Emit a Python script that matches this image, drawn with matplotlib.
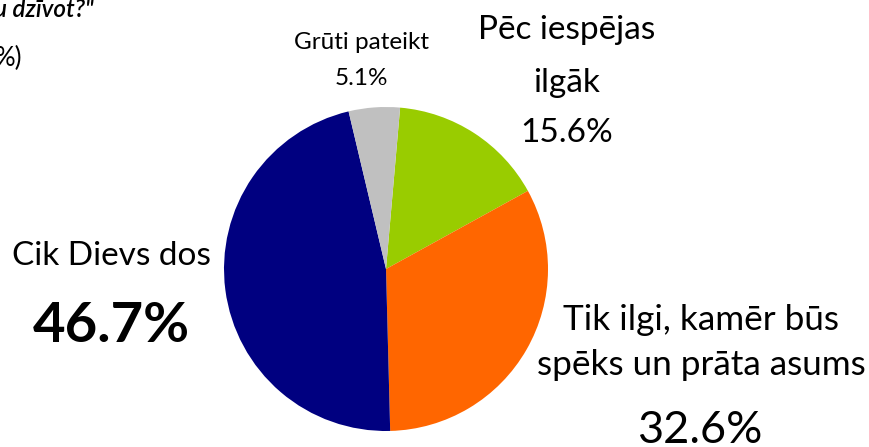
import matplotlib.pyplot as plt

labels = ['Pēc iespējas\nilgāk', 'Tik ilgi, kamēr būs\nspēks un prāta asums', 'Cik Dievs dos', 'Grūti pateikt']
values = [15.6, 32.6, 46.7, 5.1]
colors = ['#99CC00', '#FF6600', '#000080', '#C0C0C0']

plt.rcParams['font.family'] = ['Lato', 'DejaVu Sans']

W, H = 869, 447
fig = plt.figure(figsize=(W / 100, H / 100), dpi=100)

def fx(x):
    return x / W

def fy(y):
    return 1 - y / H

# pie
cx, cy, r = 386, 269, 162
ax = fig.add_axes([fx(cx - r), fy(cy + r), 2 * r / W, 2 * r / H])
ax.pie(values, colors=colors, startangle=85, counterclock=False,
       wedgeprops=dict(linewidth=0))
ax.set_xlim(-1, 1)
ax.set_ylim(-1, 1)
ax.set_aspect('auto')
ax.axis('off')

# cut-off title
fig.text(fx(-6), fy(17), 'u dzīvot?"', fontsize=17.5, style='italic', fontweight='semibold',
         ha='left', va='baseline')
fig.text(fx(-5), fy(66), '%)', fontsize=18.5, ha='left', va='baseline')

# labels
fig.text(fx(567), fy(39), 'Pēc iespējas', fontsize=24, ha='center', va='baseline')
fig.text(fx(567), fy(92), 'ilgāk', fontsize=24, ha='center', va='baseline')
fig.text(fx(567), fy(142), f'{values[0]:.1f}%', fontsize=24, ha='center', va='baseline')

fig.text(fx(701), fy(330), 'Tik ilgi, kamēr būs', fontsize=25.3, ha='center', va='baseline')
fig.text(fx(701), fy(375), 'spēks un prāta asums', fontsize=25.3, ha='center', va='baseline')
fig.text(fx(700), fy(443), f'{values[1]:.1f}%', fontsize=32.5, ha='center', va='baseline')

fig.text(fx(111), fy(265), 'Cik Dievs dos', fontsize=24, ha='center', va='baseline')
fig.text(fx(111), fy(342), f'{values[2]:.1f}%', fontsize=40.5, fontweight='bold', ha='center', va='baseline')

fig.text(fx(361), fy(49), 'Grūti pateikt', fontsize=17.5, ha='center', va='baseline')
fig.text(fx(361), fy(85), f'{values[3]:.1f}%', fontsize=17.5, ha='center', va='baseline')

fig.savefig('out.png', dpi=100)
